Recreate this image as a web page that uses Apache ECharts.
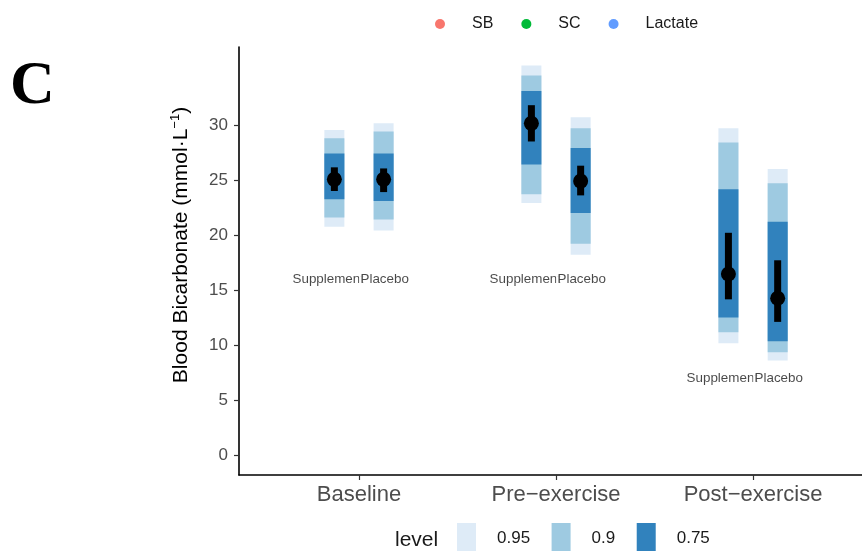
<!DOCTYPE html>
<html lang="en">
<head>
    <meta charset="UTF-8">
    <title>blood_bicarbonate_intervals</title>
    <script src="https://cdn.jsdelivr.net/npm/echarts@6/dist/echarts.min.js"></script>
    <style>
        html, body { margin: 0; padding: 0; background: #fff; }
    </style>
</head>

<body>
    <div id="mainChart" style="width: 862px; height: 551px;"></div>
    <script>
        // time points and groups
        let categories = ['Baseline', 'Pre\u2212exercise', 'Post\u2212exercise']
        let groups = ['Supplement', 'Placebo']

        // order: Baseline-Supp, Baseline-Plac, Pre-Supp, Pre-Plac, Post-Supp, Post-Plac
        let lo95 = [20.75, 20.4, 22.9, 18.2, 10.15, 8.6]
        let hi95 = [29.55, 30.15, 35.4, 30.7, 29.7, 26.0]
        let lo90 = [21.6, 21.4, 23.7, 19.2, 11.15, 9.35]
        let hi90 = [28.8, 29.4, 34.5, 29.7, 28.4, 24.7]
        let lo75 = [23.25, 23.1, 26.4, 22.0, 12.5, 10.35]
        let hi75 = [27.4, 27.4, 33.1, 27.9, 24.15, 21.2]
        let pointEst = [25.06, 25.06, 30.15, 24.9, 16.45, 14.25]
        let loInner = [24.0, 23.9, 28.5, 23.6, 14.15, 12.1]
        let hiInner = [26.15, 26.05, 31.8, 26.3, 20.2, 17.7]

        // height of the group labels under each time point
        let labelY = [16, 16, 7]

        let yTicks = [0, 5, 10, 15, 20, 25, 30]
        let levels = ['0.95', '0.9', '0.75']
        let levelColors = ['#deebf7', '#9ecae1', '#3182bd']
        let legendNames = ['SB', 'SC', 'Lactate']
        let legendColors = ['#F8766D', '#00BA38', '#619CFF']

        let dodge = [-0.125, 0.125]
        let font = 'Liberation Sans, Arial, sans-serif'

        function xPos(i) {
            let c = Math.floor(i / 2)
            return c + 1 + dodge[i % 2]
        }

        function band(lo, hi) {
            return lo.map((v, i) => [xPos(i), v, hi[i]])
        }

        function rectItem(w) {
            return function (params, api) {
                let top = api.coord([api.value(0), api.value(2)])
                let bot = api.coord([api.value(0), api.value(1)])
                return {
                    type: 'rect',
                    shape: { x: top[0] - w / 2, y: top[1], width: w, height: bot[1] - top[1] },
                    style: api.style()
                }
            }
        }

        let series = []
        let bandLo = [lo95, lo90, lo75]
        let bandHi = [hi95, hi90, hi75]
        for (let k = 0; k < levels.length; k++) {
            series.push({
                type: 'custom',
                name: levels[k],
                renderItem: rectItem(20),
                encode: { x: 0, y: [1, 2] },
                itemStyle: { color: levelColors[k] },
                data: band(bandLo[k], bandHi[k]),
                z: 2 + k
            })
        }

        series.push({
            type: 'custom',
            name: 'inner',
            renderItem: rectItem(7),
            encode: { x: 0, y: [1, 2] },
            itemStyle: { color: '#000' },
            data: band(loInner, hiInner),
            z: 6
        })

        series.push({
            type: 'scatter',
            name: 'estimate',
            symbol: 'circle',
            symbolSize: 15,
            itemStyle: { color: '#000', opacity: 1 },
            data: pointEst.map((v, i) => [xPos(i), v]),
            z: 7
        })

        // group labels, Placebo drawn over the end of Supplement
        series.push({
            type: 'scatter',
            name: 'labSupp',
            symbolSize: 0,
            silent: true,
            data: labelY.map((v, c) => ({ value: [c + 1, v], name: groups[0] })),
            label: {
                show: true, position: 'inside', align: 'right', offset: [5, 0],
                formatter: '{b}', fontFamily: font, fontSize: 13.4, color: '#1a1a1a'
            },
            z: 8
        })
        series.push({
            type: 'scatter',
            name: 'labPlac',
            symbolSize: 0,
            silent: true,
            data: labelY.map((v, c) => ({ value: [c + 1, v], name: groups[1] })),
            label: {
                show: true, position: 'inside', align: 'left', offset: [0, 0],
                padding: [1, 2, 1, 1.5], backgroundColor: '#fff',
                formatter: '{b}', fontFamily: font, fontSize: 13.4, color: '#1a1a1a'
            },
            z: 9
        })

        for (let k = 0; k < legendNames.length; k++) {
            series.push({
                type: 'scatter',
                name: legendNames[k],
                itemStyle: { color: legendColors[k], opacity: 1 },
                data: []
            })
        }

        let option = {
            animation: false,
            backgroundColor: '#fff',
            grid: { left: 239, right: 0, top: 47, bottom: 76 },
            xAxis: {
                type: 'value',
                min: 0.391,
                max: 3.553,
                splitLine: { show: false },
                axisLine: { onZero: false, lineStyle: { color: '#000', width: 1.6 } },
                axisTick: { customValues: [1, 2, 3], length: 5, lineStyle: { color: '#333', width: 1.2 } },
                axisLabel: {
                    customValues: [1, 2, 3],
                    formatter: v => categories[Math.round(v) - 1],
                    fontFamily: font, fontSize: 22, color: '#4d4d4d', margin: 9
                }
            },
            yAxis: {
                type: 'value',
                min: -1.82,
                max: 37.09,
                splitLine: { show: false },
                axisLine: { show: true, onZero: false, lineStyle: { color: '#000', width: 1.6 } },
                axisTick: { show: true, customValues: yTicks, length: 5, lineStyle: { color: '#333', width: 1.2 } },
                axisLabel: {
                    customValues: yTicks,
                    fontFamily: font, fontSize: 17, color: '#4d4d4d', margin: 11
                }
            },
            legend: [
                {
                    data: legendNames,
                    selectedMode: false,
                    left: 430,
                    top: 11,
                    icon: 'circle',
                    itemWidth: 10,
                    itemHeight: 10,
                    itemGap: 28,
                    textStyle: { fontFamily: font, fontSize: 16, color: '#1a1a1a', padding: [0, 0, 0, 22] }
                },
                {
                    data: levels,
                    selectedMode: false,
                    left: 452,
                    top: 518,
                    icon: 'rect',
                    itemWidth: 19,
                    itemHeight: 30,
                    itemGap: 21.5,
                    textStyle: { fontFamily: font, fontSize: 17, color: '#1a1a1a', padding: [0, 0, 0, 16] }
                }
            ],
            graphic: [
                {
                    type: 'text',
                    left: 10,
                    top: 56,
                    style: { text: 'C', font: 'bold 62px "Liberation Serif", "Times New Roman", serif', fill: '#000' }
                },
                {
                    type: 'text',
                    x: 395,
                    y: 540,
                    style: { text: 'level', fontFamily: font, fontSize: 21, fill: '#1a1a1a', verticalAlign: 'middle' }
                },
                {
                    type: 'text',
                    x: 181,
                    y: 245,
                    rotation: Math.PI / 2,
                    style: {
                        text: '{a|Blood Bicarbonate (mmol\u00b7L}{s|\u22121}{a|)}',
                        align: 'center',
                        verticalAlign: 'middle',
                        rich: {
                            a: { fontFamily: font, fontSize: 21, color: '#000' },
                            s: { fontFamily: font, fontSize: 13, color: '#000', padding: [0, 0, 12, 0] }
                        }
                    }
                }
            ],
            series: series
        }

        let charts = echarts.init(document.querySelector('#mainChart'))
        charts.setOption(option, true)

        window.addEventListener('resize', function () {
            charts.resize()
        })
    </script>
</body>

</html>
